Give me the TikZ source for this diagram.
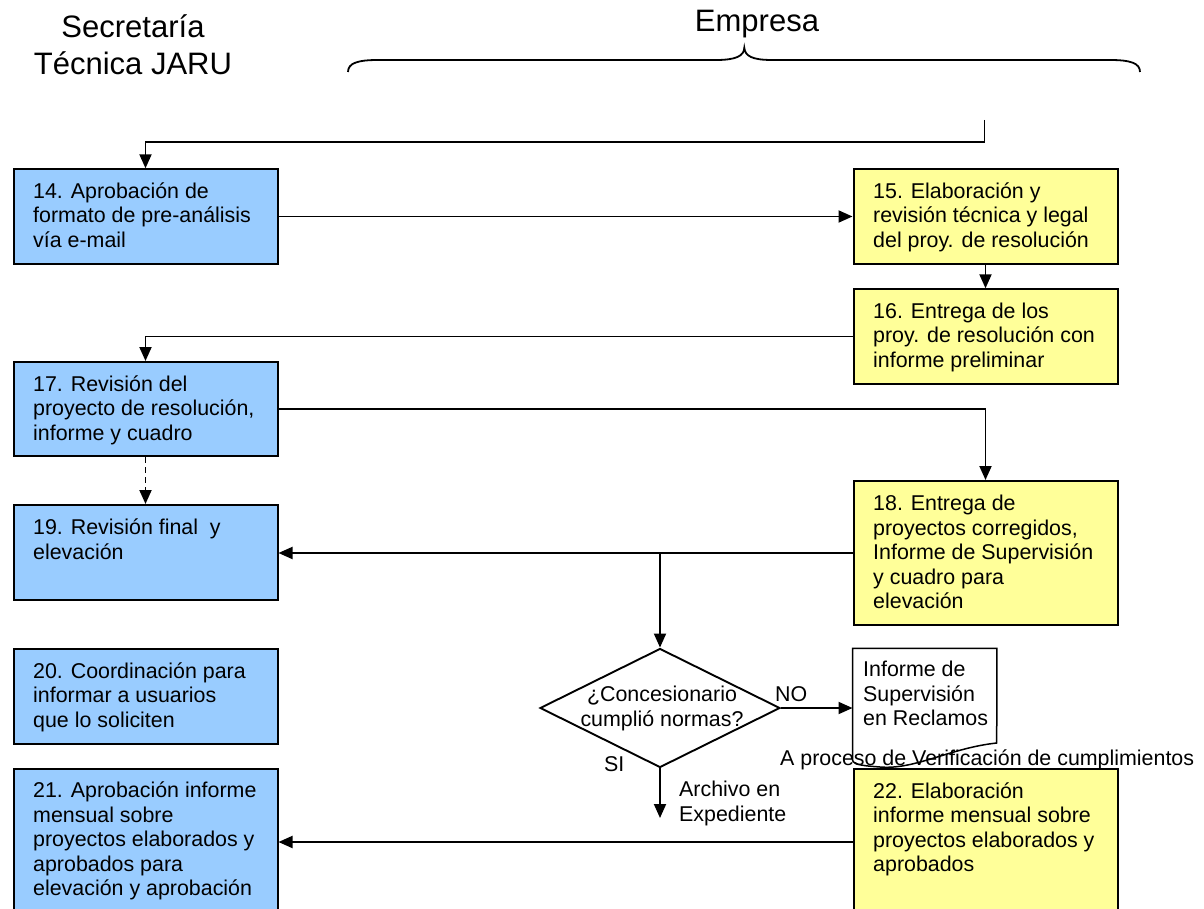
\documentclass[tikz,border=0pt]{standalone}
\usepackage{fontspec}
\setmainfont{Liberation Sans}
\usetikzlibrary{arrows.meta,shapes.geometric,calc}

% multi-line text blocks whose baseline is the first line
\newcommand{\mlleft}[1]{\vtop{\baselineskip=24.5pt\lineskiplimit=-30pt\lineskip=0pt\halign{##\hfil\cr#1\crcr}}}
\newcommand{\mlcenter}[1]{\vtop{\baselineskip=25pt\lineskiplimit=-30pt\lineskip=0pt\halign{\hfil##\hfil\cr#1\crcr}}}

\definecolor{boxblue}{HTML}{99CCFF}
\definecolor{boxyellow}{HTML}{FFFF99}

\tikzset{
  procbox/.style={draw=black, line width=2pt, rectangle, inner sep=0pt,
    anchor=north west, minimum width=264pt},
  bluebox/.style={procbox, fill=boxblue},
  yellowbox/.style={procbox, fill=boxyellow},
  txt/.style={inner sep=0pt, anchor=base west, font=\fontsize{21.4pt}{24.5pt}\selectfont},
  head/.style={inner sep=0pt, anchor=base, font=\fontsize{31pt}{37pt}\selectfont},
  conn/.style={line width=1.9pt, -{Triangle[length=14pt,width=12pt]}},
}

\begin{document}
\begin{tikzpicture}[x=1pt, y=-1pt]
\useasboundingbox (0,0) rectangle (1204,909);

% column headings
\node[head] (hsec1) at (133,37.3) {Secretaría};
\node[head] (hsec2) at (133,75) {Técnica JARU};
\node[head] (hemp) at (757,31.7) {Empresa};

% brace over the company column
\draw[line width=1.8pt] (348,72) .. controls (348,63) and (358,60) .. (378,60)
  -- (716,60) .. controls (736,60) and (744,56) .. (744.3,47.7)
  .. controls (745,56) and (752,60) .. (772,60)
  -- (1110,60) .. controls (1130,60) and (1140,63) .. (1140,72);

% process boxes
\node[bluebox, minimum height=94.4pt] (b14) at (12.5,168.3) {};
\node[yellowbox, minimum height=94.4pt] (b15) at (852.5,168.3) {};
\node[yellowbox, minimum height=94.4pt] (b16) at (852.5,288.3) {};
\node[bluebox, minimum height=94pt] (b17) at (12.5,361) {};
\node[yellowbox, minimum height=144pt] (b18) at (852.5,480) {};
\node[bluebox, minimum height=95.3pt] (b19) at (12.5,504) {};
\node[bluebox, minimum height=95pt] (b20) at (12.5,648) {};
\node[bluebox, minimum height=170pt] (b21) at (12.5,767.5) {};
\node[yellowbox, minimum height=170pt] (b22) at (852.5,768) {};

% box texts
\node[txt] (t14) at (33,198.3) {\mlleft{14. Aprobación de\cr formato de pre-análisis\cr vía e-mail}};
\node[txt] (t15) at (873,198.3) {\mlleft{15. Elaboración y\cr revisión técnica y legal\cr del proy. de resolución}};
\node[txt] (t16) at (873,318) {\mlleft{16. Entrega de los\cr proy. de resolución con\cr informe preliminar}};
\node[txt] (t17) at (33,391) {\mlleft{17. Revisión del\cr proyecto de resolución,\cr informe y cuadro}};
\node[txt] (t18) at (873,510.5) {\mlleft{18. Entrega de\cr proyectos corregidos,\cr Informe de Supervisión\cr y cuadro para\cr elevación}};
\node[txt] (t19) at (33,534.5) {\mlleft{19. Revisión final~ y\cr elevación}};
\node[txt] (t20) at (33,678) {\mlleft{20. Coordinación para\cr informar a usuarios\cr que lo soliciten}};
\node[txt] (t21) at (33,797.5) {\mlleft{21. Aprobación informe\cr mensual sobre\cr proyectos elaborados y\cr aprobados para\cr elevación y aprobación}};
\node[txt] (t22) at (873,798) {\mlleft{22. Elaboración\cr informe mensual sobre\cr proyectos elaborados y\cr aprobados}};

% decision
\node[diamond, draw=black, line width=1.9pt, fill=white, inner sep=0pt,
  minimum width=240pt, minimum height=119pt] (dec) at (660,708) {};
\node[txt, anchor=base] (tdec) at (662,701) {\mlcenter{¿Concesionario\cr cumplió normas?}};

% document: report on claims
\node[inner sep=0pt, anchor=north west, minimum width=144pt, minimum height=95pt] (doc) at (852.5,648.3) {};
\draw[line width=1.5pt, fill=white] (doc.north west) -- (doc.north east) -- (996.7,743)
  .. controls (950,748) and (915,770) .. (880,767)
  .. controls (866,766) and (853,765) .. (852.5,760) -- cycle;
\node[txt] (tdoc) at (863,676.7) {\mlleft{Informe de\cr Supervisión\cr en Reclamos}};
\node[txt] (tver) at (780,765) {A proceso de Verificación de cumplimientos};

% labels of the decision branches
\node[txt] (lno) at (775,701) {NO};
\node[txt] (lsi) at (604,771.7) {SI};
\node[txt] (larch) at (679,796.7) {\mlleft{Archivo en\cr Expediente}};

% connectors
\coordinate (cin) at (984.5,120);
\coordinate (cbend) at (984.5,142);
\draw[conn] (cin) -- (cbend) -- (cbend -| b14.north) -- (b14.north);
\draw[conn] (b14.east) -- (b14.east -| b15.west);
\draw[conn] (b15.south) -- (b16.north);
\draw[conn] (b16.west) -- (b16.west -| b17.north) -- (b17.north);
\draw[conn] (b17.east) -- (b17.east -| b18.north) -- (b18.north);
\draw[conn, dash pattern=on 6pt off 4pt] (b17.south) -- (b19.north);
\draw[conn] (b18.west) -- (b18.west -| b19.east);
\coordinate (jdec) at (b18.west -| dec.north);
\draw[conn] (jdec) -- (dec.north);
\draw[conn] (dec.east) -- (dec.east -| doc.west);
\coordinate (carch) at (660,818);
\draw[conn] (dec.south) -- (carch);
\coordinate (m22) at (852.5,842);
\draw[conn] (m22) -- (m22 -| b21.east);
\end{tikzpicture}
\end{document}
